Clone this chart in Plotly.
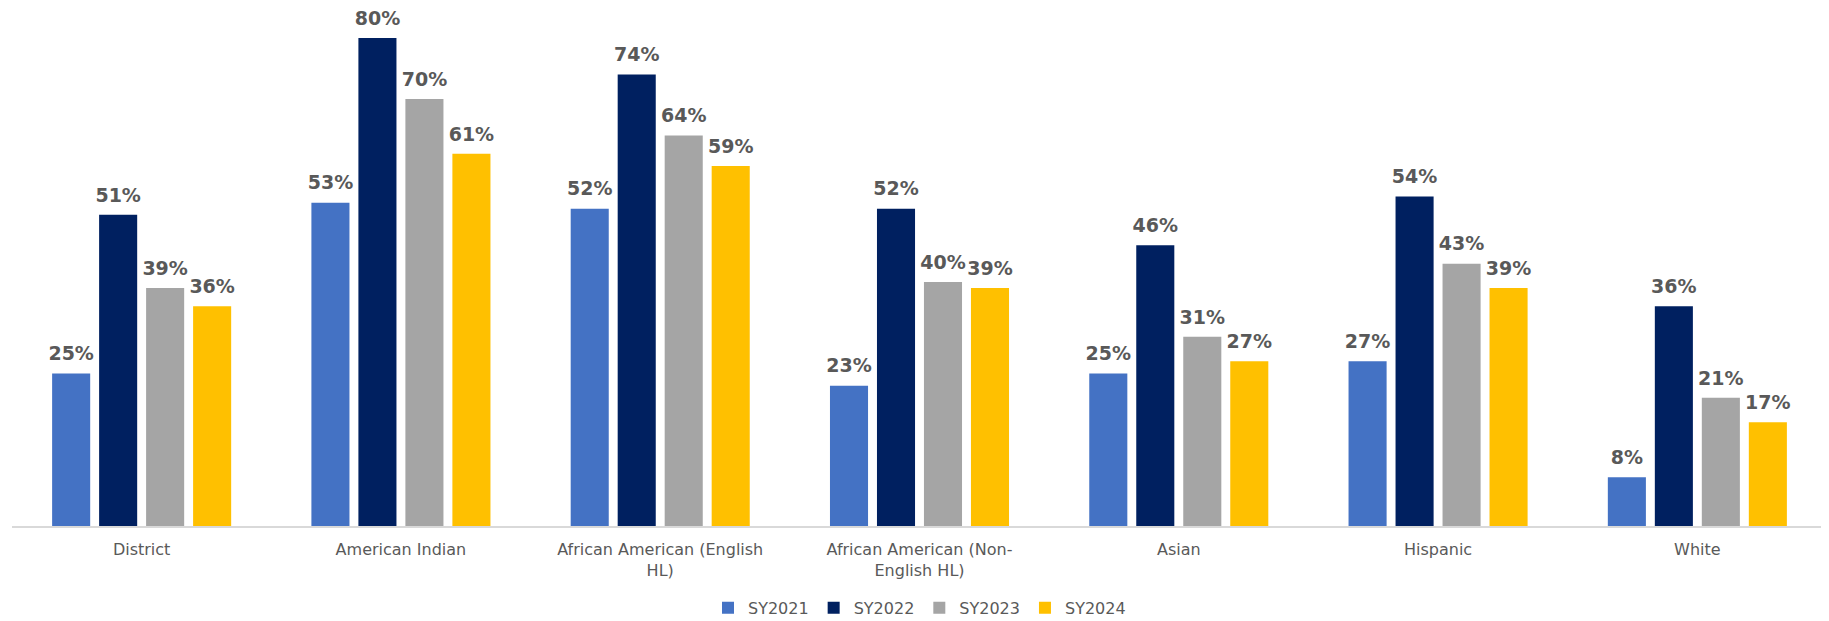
import plotly.graph_objects as go

categories = ["District", "American Indian", "African American (English<br>HL)",
              "African American (Non-<br>English HL)", "Asian", "Hispanic", "White"]
series_names = ["SY2021", "SY2022", "SY2023", "SY2024"]
sy2021 = [25, 53, 52, 23, 25, 27, 8]
sy2022 = [51, 80, 74, 52, 46, 54, 36]
sy2023 = [39, 70, 64, 40, 31, 43, 21]
sy2024 = [36, 61, 59, 39, 27, 39, 17]
colors = ["#4472C4", "#002060", "#A5A5A5", "#FFC000"]

GAP = 0.275
fig = go.Figure()
for name, vals, col in zip(series_names, [sy2021, sy2022, sy2023, sy2024], colors):
    fig.add_trace(go.Bar(
        x=categories, y=vals, name=name,
        marker=dict(color=col, line=dict(width=0)),
        offsetgroup=name,
    ))
for name, vals in zip(series_names, [sy2021, sy2022, sy2023, sy2024]):
    fig.add_trace(go.Scatter(
        x=categories, y=vals, mode="markers+text",
        text=[f"{v}%" for v in vals], textposition="top center",
        marker=dict(size=12, opacity=0),
        textfont=dict(family="DejaVu Sans", size=19, color="#595959", weight="bold"),
        offsetgroup=name, showlegend=False, hoverinfo="skip", cliponaxis=False,
    ))

fig.update_layout(
    width=1829, height=621,
    margin=dict(l=4, r=10, t=0, b=103),
    paper_bgcolor="white", plot_bgcolor="white",
    barmode="group", bargap=GAP, bargroupgap=0.19,
    scattermode="group", scattergap=GAP,
    showlegend=True,
    legend=dict(orientation="h", x=0.5, xanchor="center", y=-0.158, yanchor="middle",
                font=dict(family="DejaVu Sans", size=16, color="#595959"),
                itemwidth=30, traceorder="normal"),
    xaxis=dict(showline=True, linecolor="#D9D9D9", linewidth=1.5, ticks="",
               ticklabelstandoff=8,
               tickfont=dict(family="DejaVu Sans", size=16, color="#595959")),
    yaxis=dict(range=[0, 84.9], visible=False, showgrid=False),
)

fig.write_html("out.html")
